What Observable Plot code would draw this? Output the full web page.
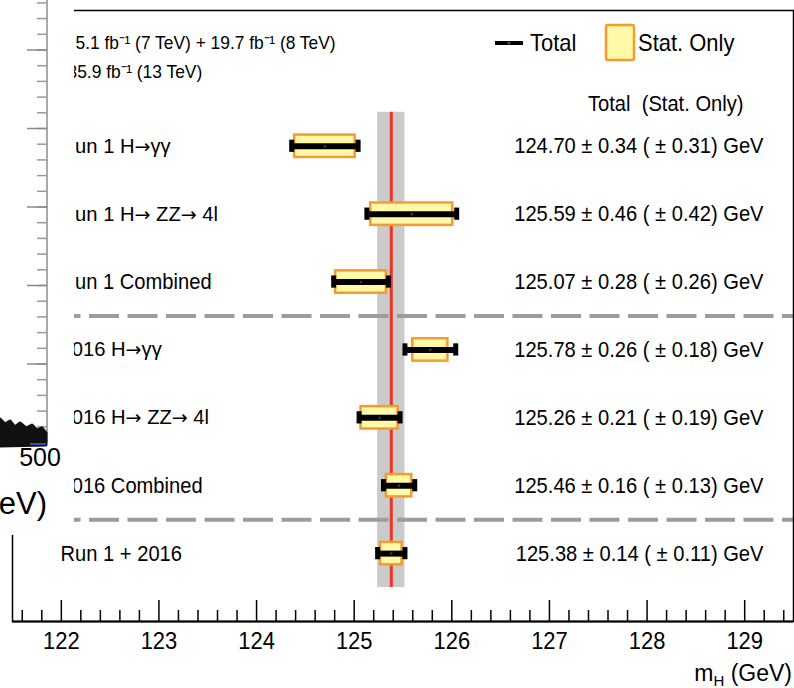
<!DOCTYPE html>
<html><head><meta charset="utf-8">
<script src="https://cdn.jsdelivr.net/npm/d3@7"></script>
<script src="https://cdn.jsdelivr.net/npm/@observablehq/plot@0.6"></script>
<style>
html,body{margin:0;padding:0;background:#fff;}
#chart{position:relative;width:794px;height:688px;overflow:hidden;}
</style></head><body><div id="chart"></div>
<script>
// ---- data ----
const channels = ["Run 1 H\u2192\u03b3\u03b3", "Run 1 H\u2192 ZZ\u2192 4l", "Run 1 Combined",
                  "2016 H\u2192\u03b3\u03b3", "2016 H\u2192 ZZ\u2192 4l", "2016 Combined", "Run 1 + 2016"];
const masses   = [124.70, 125.59, 125.07, 125.78, 125.26, 125.46, 125.38];
const totalErr = [0.34, 0.46, 0.28, 0.26, 0.21, 0.16, 0.14];
const statErr  = [0.31, 0.42, 0.26, 0.18, 0.19, 0.13, 0.11];
const xTicks   = [122, 123, 124, 125, 126, 127, 128, 129];
const lumiLines = ["5.1 fb\u207b\u00b9 (7 TeV) + 19.7 fb\u207b\u00b9 (8 TeV)", "35.9 fb\u207b\u00b9 (13 TeV)"];
const separators = [2.5, 5.5];
const legendLabels = ["Total", "Stat. Only"];
const headerText = "Total\u00a0 (Stat. Only)";
const sideTickValues = [0, 1, 2, 3, 4, 5]; // remnant axis of the overlapping figure
const sideLabel = "500", sideTitle = "(GeV)";

// ---- build ----
const rows = channels.map((c, i) => ({
  name: c, i, m: masses[i], t: totalErr[i], s: statErr[i],
  label: `${masses[i].toFixed(2)} \u00b1 ${totalErr[i].toFixed(2)} ( \u00b1 ${statErr[i].toFixed(2)}) GeV`
}));
const comb = rows[rows.length - 1];
const minorTicks = d3.range(1216, 1295, 2).filter(v => v % 10 !== 0).map(v => v / 10);
const caps = rows.flatMap(d => [{x: d.m - d.t, i: d.i}, {x: d.m + d.t, i: d.i}]);

const W = 794, H = 688, mT = 10, mB = 67, mL = 12, mR = 1;
const unit = (H - mT - mB) / 9; // px per y unit
const FONT = "'Liberation Sans', Arial, Helvetica, sans-serif";
const YEL = "#fff9a8", ORA = "#f59b30";

const plot = Plot.plot({
  width: W, height: H,
  marginLeft: mL, marginRight: mR, marginTop: mT, marginBottom: mB,
  x: {domain: [121.5, 129.5], label: null},
  y: {domain: [-2, 7], reverse: true, axis: null},
  style: {fontFamily: FONT, fontSize: "22px", color: "black", background: "white"},
  marks: [
    Plot.rect([comb], {x1: d => d.m - d.t, x2: d => d.m + d.t, y1: -0.5, y2: 6.5, fill: "#cbcbcb"}),
    Plot.ruleX([comb], {x: "m", y1: -0.5, y2: 6.5, stroke: "#ec3324", strokeWidth: 3}),
    Plot.ruleY(separators, {y: d => d, stroke: "#9c9c9c", strokeWidth: 4, strokeDasharray: "30,8.5"}),
    Plot.rect(rows, {x1: d => d.m - d.s, x2: d => d.m + d.s, y1: d => d.i - 0.165, y2: d => d.i + 0.165,
                     fill: YEL, stroke: ORA, strokeWidth: 2.5}),
    Plot.ruleY(rows, {y: "i", x1: d => d.m - d.t, x2: d => d.m + d.t, stroke: "black", strokeWidth: 6}),
    Plot.ruleX(caps, {x: "x", y1: d => d.i - 0.09, y2: d => d.i + 0.09, stroke: "black", strokeWidth: 5}),
    Plot.dot(rows, {x: "m", y: "i", r: 1.4, fill: "#3a3a3a", stroke: null}),
    Plot.text(rows, {text: "name", y: "i", frameAnchor: "left", dx: 48, textAnchor: "start", fontSize: 22}),
    Plot.text(rows, {text: "label", y: "i", frameAnchor: "right", dx: -30, textAnchor: "end", fontSize: 22}),
    Plot.text([headerText], {text: d => d, y: -0.63, frameAnchor: "right", dx: -50, textAnchor: "end", fontSize: 22}),
    Plot.text([lumiLines[0]], {text: d => d, y: -1.52, frameAnchor: "left", dx: 63, textAnchor: "start", fontSize: 19}),
    Plot.text([lumiLines[1]], {text: d => d, y: -1.09, frameAnchor: "left", dx: 55, textAnchor: "start", fontSize: 19}),
    Plot.frame({stroke: "black", strokeWidth: 1.5}),
    Plot.ruleY([7], {stroke: "black", strokeWidth: 2}),
    Plot.ruleX(xTicks, {x: d => d, y1: 7, y2: 7 - 21 / unit, stroke: "black", strokeWidth: 1.5}),
    Plot.ruleX(minorTicks, {x: d => d, y1: 7, y2: 7 - 11 / unit, stroke: "black", strokeWidth: 1.5}),
    Plot.axisX(xTicks, {tickSize: 0, tickPadding: 10, fontSize: 24, label: null, tickFormat: d => String(d)})
  ]
});
document.getElementById("chart").appendChild(plot);
const svg = d3.select(plot);

// compress text horizontally (condensed look of the original) – single-run texts only
svg.selectAll("text").each(function () {
  if (this.childElementCount) return;
  const len = this.getComputedTextLength();
  if (len > 0) { this.setAttribute("textLength", (len * 0.915).toFixed(1)); this.setAttribute("lengthAdjust", "spacingAndGlyphs"); }
});

// wider arrows (ROOT-style) for the channel labels
svg.selectAll("text").each(function () {
  if (this.childElementCount || !this.textContent.includes("\u2192")) return;
  this.removeAttribute("textLength"); this.removeAttribute("lengthAdjust");
  this.setAttribute("font-size", 20.2);
  const parts = this.textContent.split("\u2192");
  this.textContent = "";
  parts.forEach((p, k) => {
    if (k > 0) d3.select(this).append("tspan").attr("font-family", "'DejaVu Sans', sans-serif").attr("font-size", 19).text("\u2192");
    if (p) d3.select(this).append("tspan").text(p);
  });
});

// legend
const lg = svg.append("g").attr("font-family", FONT).attr("font-size", 24).attr("text-anchor", "start");
lg.append("line").attr("x1", 495).attr("x2", 523).attr("y1", 43).attr("y2", 43).attr("stroke", "black").attr("stroke-width", 4);
lg.append("circle").attr("cx", 509).attr("cy", 43).attr("r", 1.5).attr("fill", "#555");
lg.append("rect").attr("x", 606).attr("y", 25).attr("width", 28).attr("height", 35).attr("rx", 2)
  .attr("fill", YEL).attr("stroke", ORA).attr("stroke-width", 2.5);
[[530, legendLabels[0]], [638, legendLabels[1]]].forEach(([x, s]) => {
  const t = lg.append("text").attr("x", x).attr("y", 43).attr("dy", "0.35em").text(s).node();
  t.setAttribute("textLength", (t.getComputedTextLength() * 0.915).toFixed(1));
  t.setAttribute("lengthAdjust", "spacingAndGlyphs");
});

// axis title m_H (GeV)
const at = svg.append("text").attr("font-family", FONT).attr("font-size", 23)
  .attr("x", 792).attr("y", 681).attr("text-anchor", "end");
at.append("tspan").text("m");
at.append("tspan").attr("font-size", 15).attr("dy", 5).text("H");
at.append("tspan").attr("dy", -5).text(" (GeV)");

// overlapping remnant of a neighbouring figure on the left
const ov = svg.append("g");
ov.append("rect").attr("x", 0).attr("y", 0).attr("width", 74).attr("height", 535).attr("fill", "white");
ov.append("line").attr("x1", 47).attr("x2", 47).attr("y1", 0).attr("y2", 442).attr("stroke", "#8d8d8d").attr("stroke-width", 1.5);
const sideMajor = sideTickValues.map(k => 50 + 78.5 * k);
const sideMinor = d3.range(-3, 25).map(k => 50 + 15.7 * k).filter(y => y > 0 && y < 442);
ov.selectAll(".mn").data(sideMinor).join("line").attr("x1", 37).attr("x2", 47).attr("y1", d => d).attr("y2", d => d)
  .attr("stroke", "#999").attr("stroke-width", 1.5);
ov.selectAll(".mj").data(sideMajor).join("line").attr("x1", 27).attr("x2", 47).attr("y1", d => d).attr("y2", d => d)
  .attr("stroke", "#888").attr("stroke-width", 1.5);
ov.append("path").attr("d", "M0,419 L5,424 L10,421 L15,427 L20,423 L26,428 L32,425 L37,430 L42,428 L46,433 L46,445 L0,446 Z")
  .attr("fill", "#111").attr("stroke", "#111").attr("stroke-width", 3).attr("stroke-linejoin", "round");
ov.append("line").attr("x1", 30).attr("x2", 46).attr("y1", 444).attr("y2", 444).attr("stroke", "#3050c0").attr("stroke-width", 2);
ov.append("text").attr("x", 40).attr("y", 466).attr("text-anchor", "middle").attr("font-family", FONT).attr("font-size", 25).text(sideLabel);
ov.append("text").attr("x", 47).attr("y", 514).attr("text-anchor", "end").attr("font-family", FONT).attr("font-size", 31).text(sideTitle);
</script>
</body></html>
